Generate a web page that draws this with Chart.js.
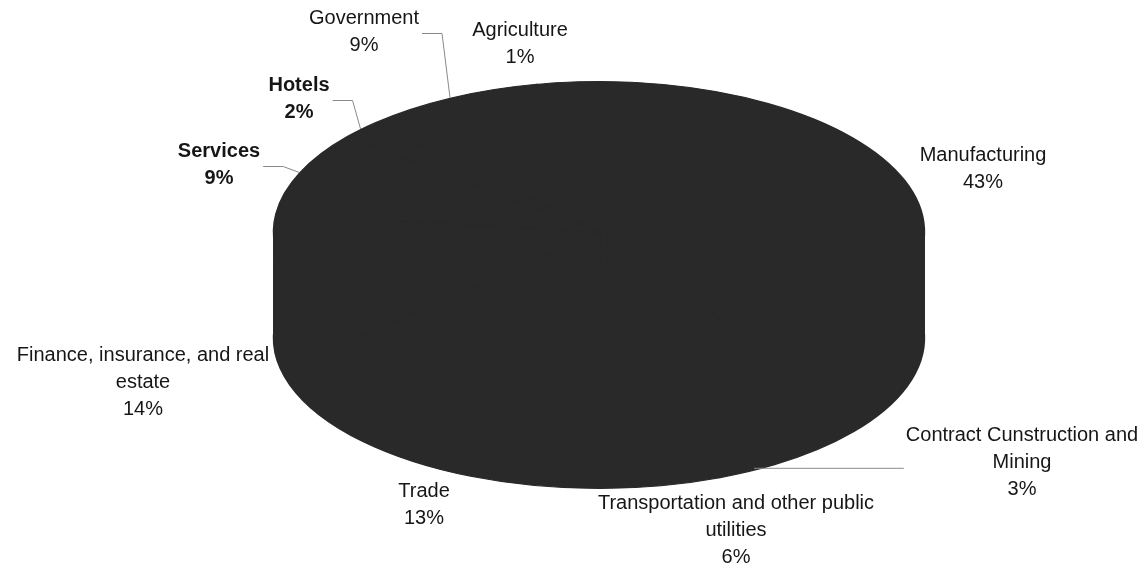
<!DOCTYPE html>
<html>
<head>
<meta charset="utf-8">
<script src="https://cdn.jsdelivr.net/npm/chart.js@4/dist/chart.umd.min.js"></script>
<style>
  html, body { margin: 0; padding: 0; background: #fff; }
</style>
</head>
<body>
<canvas id="graficaSectores" width="1148" height="573"></canvas>
<script>
// Datos del gráfico (porcentaje por sector)
const categorias = ['Agriculture', 'Manufacturing', 'Contract Cunstruction and Mining',
    'Transportation and other public utilities', 'Trade', 'Finance, insurance, and real estate',
    'Services', 'Hotels', 'Government'];
const porcentajes = [1, 43, 3, 6, 13, 14, 9, 2, 9];

// Texto de las etiquetas, ya partido en líneas como en el original
const lineasEtiqueta = [
    ['Agriculture'], ['Manufacturing'], ['Contract Cunstruction and', 'Mining'],
    ['Transportation and other public', 'utilities'], ['Trade'],
    ['Finance, insurance, and real', 'estate'], ['Services'], ['Hotels'], ['Government']
];

// Maquetación de las etiquetas (centro de la primera línea) y estilo
const posEtiqueta = [[520, 30], [983, 155], [1022, 435], [736, 503], [424, 491],
    [143, 355], [219, 151], [299, 85], [364, 18]];
const negrita = [false, false, false, false, false, false, true, true, false];
const tipoGuia = [null, null, 'recta', null, null, null, 'codo', 'codo', 'codo'];

// Elipse del pastel 3D (el borde de 2 px añade un poco por fuera)
const CX = 599, CY = 232, RX = 325, RY = 150.5, PROF = 106;
const COLOR = '#292929';
const ALTO_LINEA = 27;

function aplicarElipse(ctx, arc, off) {
    const R = arc.outerRadius;
    ctx.translate(CX, CY + off);
    ctx.scale(RX / R, RY / R);
    ctx.translate(-arc.x, -arc.y);
}

function puntoBorde(arc) {
    const a = (arc.startAngle + arc.endAngle) / 2;
    const x = CX + Math.cos(a) * (RX + 1);
    let y = CY + Math.sin(a) * (RY + 0.5);
    if (Math.sin(a) > 0) y += PROF; // cara frontal: borde inferior
    return [x, y];
}

const pastel3D = {
    id: 'pastel3D',
    beforeDatasetsDraw(chart) {
        // cara superior: la dibuja Chart.js con la elipse aplicada
        chart.ctx.save();
        aplicarElipse(chart.ctx, chart.getDatasetMeta(0).data[0], 0);
    },
    afterDatasetsDraw(chart) {
        const ctx = chart.ctx;
        ctx.restore();
        const arcs = chart.getDatasetMeta(0).data;
        // lateral por detrás de la cara superior: banda recta + base del pastel
        ctx.save();
        ctx.globalCompositeOperation = 'destination-over';
        ctx.fillStyle = COLOR;
        ctx.fillRect(CX - RX - 1, CY, RX * 2 + 2, PROF);
        ctx.save();
        aplicarElipse(ctx, arcs[0], PROF);
        arcs.forEach(a => a.draw(ctx));
        ctx.restore();
        ctx.restore();
    },
    afterDraw(chart) {
        const ctx = chart.ctx;
        const arcs = chart.getDatasetMeta(0).data;

        ctx.save();
        ctx.textAlign = 'center';
        ctx.textBaseline = 'middle';
        ctx.fillStyle = '#161616';
        ctx.strokeStyle = '#8a8a8a';
        ctx.lineWidth = 1;

        arcs.forEach((arc, i) => {
            const [lx, ly] = posEtiqueta[i];
            const lineas = lineasEtiqueta[i].slice();
            lineas.push(porcentajes[i] + '%');
            ctx.font = (negrita[i] ? 'bold ' : '') + '20px "Liberation Sans", Arial, sans-serif';
            lineas.forEach((t, k) => ctx.fillText(t, lx, ly + k * ALTO_LINEA));

            const [px, py] = puntoBorde(arc);
            const ancho = ctx.measureText(lineasEtiqueta[i][0]).width;
            ctx.beginPath();
            if (tipoGuia[i] === 'codo') {
                const x0 = lx + ancho / 2 + 3;
                const y0 = ly + ALTO_LINEA / 2 + 2;
                ctx.moveTo(x0, y0);
                ctx.lineTo(x0 + 20, y0);
                ctx.lineTo(px, py);
                ctx.stroke();
            } else if (tipoGuia[i] === 'recta') {
                ctx.moveTo(px + 6, py - 4);
                ctx.lineTo(lx - ancho / 2 - 2, py - 4);
                ctx.stroke();
            }
        });
        ctx.restore();
    }
};

new Chart(document.getElementById('graficaSectores'), {
    type: 'pie',
    data: {
        labels: categorias,
        datasets: [{
            data: porcentajes,
            backgroundColor: COLOR,
            borderColor: COLOR,
            borderWidth: 2,
            hoverOffset: 0,
            clip: false
        }]
    },
    options: {
        responsive: false,
        animation: false,
        rotation: -11,
        layout: { padding: 20 },
        plugins: {
            legend: { display: false },
            tooltip: { enabled: false }
        }
    },
    plugins: [pastel3D]
});
</script>
</body>
</html>
